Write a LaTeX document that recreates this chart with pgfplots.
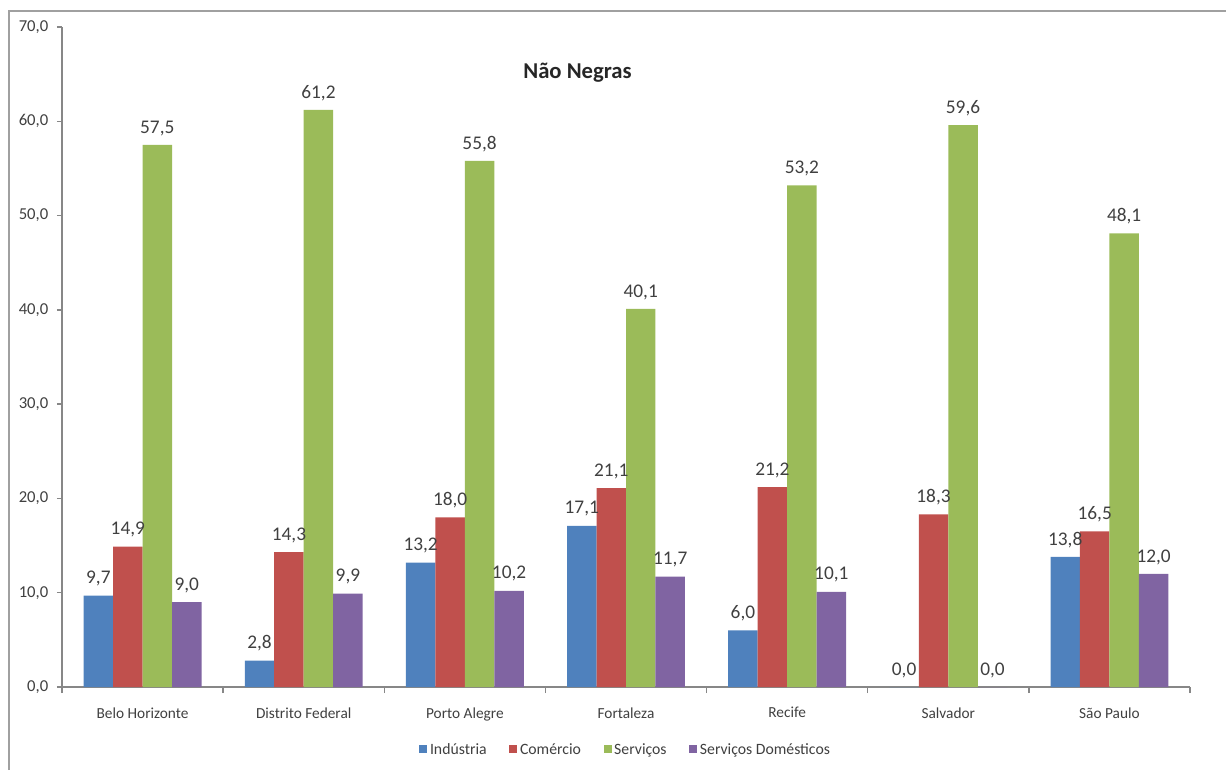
\documentclass[border=0pt]{standalone}
\usepackage{fontspec}
\setmainfont{Carlito}
\usepackage{pgfplots}
\pgfplotsset{compat=1.18}

\definecolor{cInd}{HTML}{4F81BD}
\definecolor{cCom}{HTML}{C0504D}
\definecolor{cSer}{HTML}{9BBB59}
\definecolor{cDom}{HTML}{8064A2}
\definecolor{axisgray}{HTML}{878787}
\definecolor{framegray}{HTML}{A0A0A0}
\definecolor{txt}{HTML}{404040}

\begin{document}
\begin{tikzpicture}
% page area (1 px = 0.75 pt)
\useasboundingbox (0,0) rectangle (919.5pt,577.5pt);
% outer chart frame
\draw[framegray, line width=1.4pt] (6.9pt,0pt) -- (6.9pt,569.3pt) -- (919.5pt,569.3pt);

\begin{axis}[
  at={(46.5pt,62.25pt)}, anchor=south west,
  scale only axis, width=846pt, height=495pt,
  ybar=0pt, bar width=22.1pt,
  xmin=-0.5, xmax=6.5, ymin=0, ymax=70,
  axis x line*=bottom, axis y line*=left,
  axis line style={axisgray, line width=1.1pt},
  tick align=outside,
  major tick length=3.75pt, minor tick length=4.5pt,
  tick style={axisgray, line width=1.1pt},
  xtick={0,...,6},
  xticklabels={Belo Horizonte, Distrito Federal, Porto Alegre, Fortaleza, Recife, Salvador, São Paulo},
  minor xtick={-0.5,0.5,...,6.5},
  every major x tick/.append style={draw=none},
  xticklabel style={font=\fontsize{11.5}{13}\selectfont, text=txt, yshift=-8pt},
  ytick={0,10,...,70},
  /pgf/number format/assume math mode=true,
  yticklabel={\pgfmathprintnumber[fixed,fixed zerofill,precision=1,use comma]{\tick}},
  yticklabel style={font=\fontsize{12.5}{14}\selectfont, text=txt, xshift=-3pt},
  nodes near coords={\pgfmathprintnumber[fixed,fixed zerofill,precision=1,use comma]{\pgfplotspointmeta}},
  every node near coord/.append style={font=\fontsize{14.5}{16}\selectfont, text=txt, yshift=3.5pt},
  title={Não Negras},
  title style={at={(0.457,0.918)}, anchor=center, font=\fontsize{17}{20}\selectfont\bfseries, text=black!85},
  legend style={at={(0.5,-0.0955)}, anchor=center, legend columns=4, draw=none,
    font=\fontsize{11.8}{13}\selectfont, text=txt,
    /tikz/every even column/.append style={column sep=15pt}},
  legend image code/.code={\fill[#1] (0pt,-2.2pt) rectangle (6pt,3.8pt);},
]
\addplot[fill=cInd, draw=none] coordinates {(0,9.7) (1,2.8) (2,13.2) (3,17.1) (4,6.0) (5,0.0) (6,13.8)};
\addplot[fill=cCom, draw=none] coordinates {(0,14.9) (1,14.3) (2,18.0) (3,21.1) (4,21.2) (5,18.3) (6,16.5)};
\addplot[fill=cSer, draw=none] coordinates {(0,57.5) (1,61.2) (2,55.8) (3,40.1) (4,53.2) (5,59.6) (6,48.1)};
\addplot[fill=cDom, draw=none] coordinates {(0,9.0) (1,9.9) (2,10.2) (3,11.7) (4,10.1) (5,0.0) (6,12.0)};
\legend{Indústria, Comércio, Serviços, Serviços Domésticos}
\end{axis}
\end{tikzpicture}
\end{document}
